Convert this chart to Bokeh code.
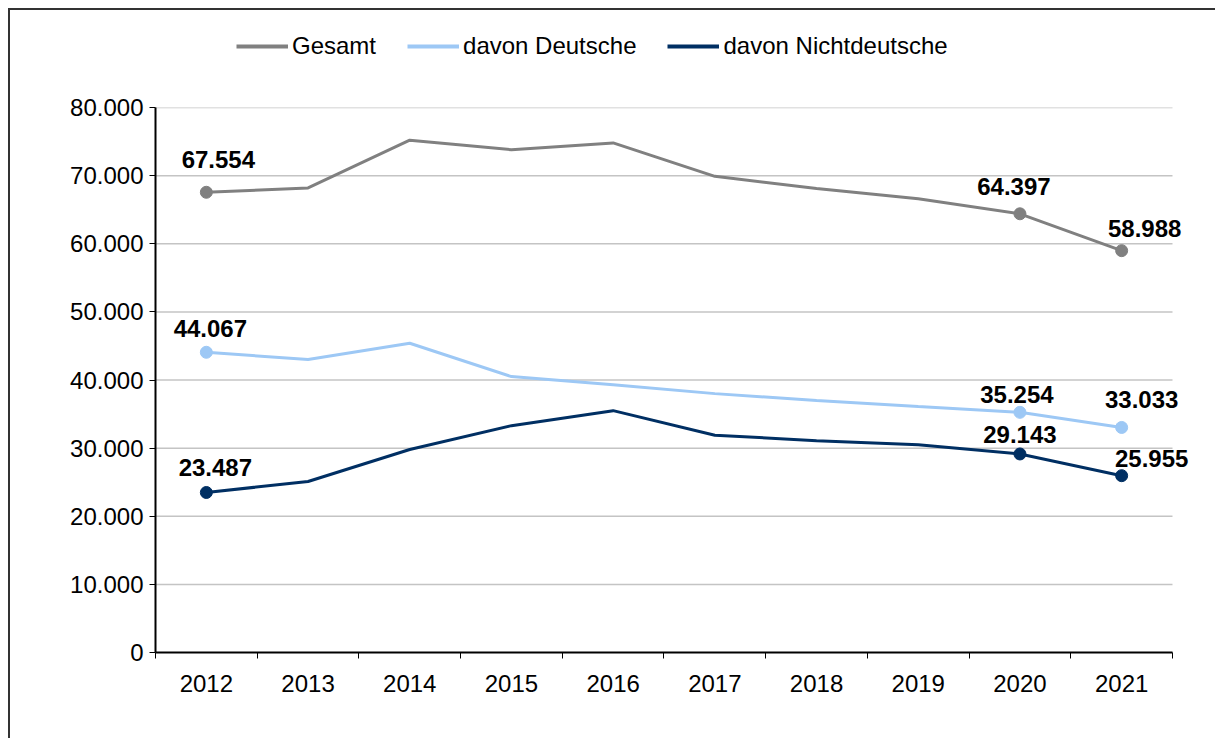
from bokeh.plotting import figure
from bokeh.layouts import column
from bokeh.models import (ColumnDataSource, Range1d, FixedTicker, Legend, LegendItem, LabelSet)
from bokeh.core.properties import value
from bokeh.embed import file_html
from bokeh.resources import INLINE

years = ["2012", "2013", "2014", "2015", "2016", "2017", "2018", "2019", "2020", "2021"]
gesamt = [67554, 68200, 75200, 73800, 74800, 69900, 68100, 66600, 64397, 58988]
deutsche = [44067, 43000, 45400, 40500, 39300, 38000, 37000, 36100, 35254, 33033]
nichtdeutsche = [23487, 25100, 29800, 33300, 35500, 31900, 31100, 30500, 29143, 25955]
y_ticks = [0, 10000, 20000, 30000, 40000, 50000, 60000, 70000, 80000]
y_tick_labels = ["0", "10.000", "20.000", "30.000", "40.000", "50.000", "60.000", "70.000", "80.000"]
labeled_idx = [0, 8, 9]

FONT = "Liberation Sans"
colors = ["#808080", "#9dc8f5", "#002f63"]
names = ["Gesamt", "davon Deutsche", "davon Nichtdeutsche"]
series = [gesamt, deutsche, nichtdeutsche]
# label pixel offsets (style) for labeled points, per series
label_dx = [[12, -6, 23], [4, -3, 20], [9, 0, 30]]
label_dy = [[33, 27, 22], [24, 18, 28], [25, 19, 17]]

n = len(years)
xc = [i + 0.5 for i in range(n)]
x_pad = 0.295  # extra room right of the last category so labels are not clipped

W = 1205
# ---- legend strip ----
top = figure(width=W, height=77, output_backend="svg", toolbar_location=None,
             x_range=Range1d(0, 1), y_range=Range1d(0, 1),
             x_axis_location=None, y_axis_location=None,
             min_border_left=0, min_border_right=0, min_border_top=0, min_border_bottom=0)
top.grid.visible = False
top.outline_line_color = None

# ---- main chart ----
p = figure(width=W, height=651, output_backend="svg", toolbar_location=None,
           x_range=Range1d(0, n + x_pad), y_range=Range1d(0, 80000),
           min_border_left=145, min_border_right=13, min_border_top=20, min_border_bottom=86)
p.outline_line_color = None
p.background_fill_color = "white"

p.xgrid.grid_line_color = None
p.ygrid.grid_line_color = None
# horizontal grid lines limited to the category span
p.segment(x0=[0] * (len(y_ticks) - 1), x1=[n] * (len(y_ticks) - 1),
          y0=y_ticks[1:], y1=y_ticks[1:], line_color="#c4c4c4", line_width=1.5)

p.yaxis.ticker = FixedTicker(ticks=y_ticks)
p.yaxis.major_label_overrides = {t: l for t, l in zip(y_ticks, y_tick_labels)}
p.yaxis.major_tick_in = 0
p.yaxis.major_tick_out = 6
p.yaxis.minor_tick_line_color = None
p.yaxis.axis_line_width = 2
p.yaxis.axis_line_color = "black"
p.yaxis.major_tick_line_color = "black"
p.yaxis.major_label_standoff = 6

p.xaxis.bounds = (0, n)
p.xaxis.ticker = FixedTicker(ticks=xc, minor_ticks=list(range(n + 1)))
p.xaxis.major_label_overrides = {x: y for x, y in zip(xc, years)}
p.xaxis.major_tick_line_color = None
p.xaxis.major_tick_out = 0
p.xaxis.major_tick_in = 0
p.xaxis.minor_tick_in = 0
p.xaxis.minor_tick_out = 6
p.xaxis.minor_tick_line_color = "black"
p.xaxis.minor_tick_line_width = 1
p.xaxis.axis_line_width = 2
p.xaxis.axis_line_color = "black"
p.xaxis.major_label_standoff = 16

for ax in (p.xaxis, p.yaxis):
    ax.major_label_text_font = FONT
    ax.major_label_text_font_size = "24px"
    ax.major_label_text_color = "black"

items = []
for s, c, nm, dx, dy in zip(series, colors, names, label_dx, label_dy):
    src = ColumnDataSource(dict(x=xc, y=s))
    p.line("x", "y", source=src, line_color=c, line_width=3)
    lsrc = ColumnDataSource(dict(
        x=[xc[i] for i in labeled_idx],
        y=[s[i] for i in labeled_idx],
        t=["{:,}".format(s[i]).replace(",", ".") for i in labeled_idx],
        dx=dx, dy=dy))
    p.scatter("x", "y", source=lsrc, size=12, fill_color=c, line_color=c)
    p.add_layout(LabelSet(x="x", y="y", text="t", source=lsrc, x_offset="dx", y_offset="dy",
                          text_align="center", text_baseline="middle",
                          text_font=value(FONT), text_font_size=value("24px"),
                          text_font_style="bold", text_color="black"))
    # same series in the legend strip (falls outside its 0..1 range, so only the legend shows)
    proxy = top.line(x=xc, y=s, line_color=c, line_width=4)
    items.append(LegendItem(label=nm, renderers=[proxy]))

legend = Legend(items=items, orientation="horizontal", location=(81, 27),
                glyph_width=52, glyph_height=20, label_standoff=4, spacing=31,
                label_text_font=FONT, label_text_font_size="24px", label_text_color="black",
                border_line_color=None, background_fill_alpha=0, padding=5, margin=0)
top.add_layout(legend, "center")

layout = column(top, p, spacing=0,
                styles={"margin-left": "8px", "margin-top": "8px",
                        "border-top": "2px solid #333333", "border-left": "2px solid #333333"})

open("out.html", "w").write(file_html(layout, INLINE))
